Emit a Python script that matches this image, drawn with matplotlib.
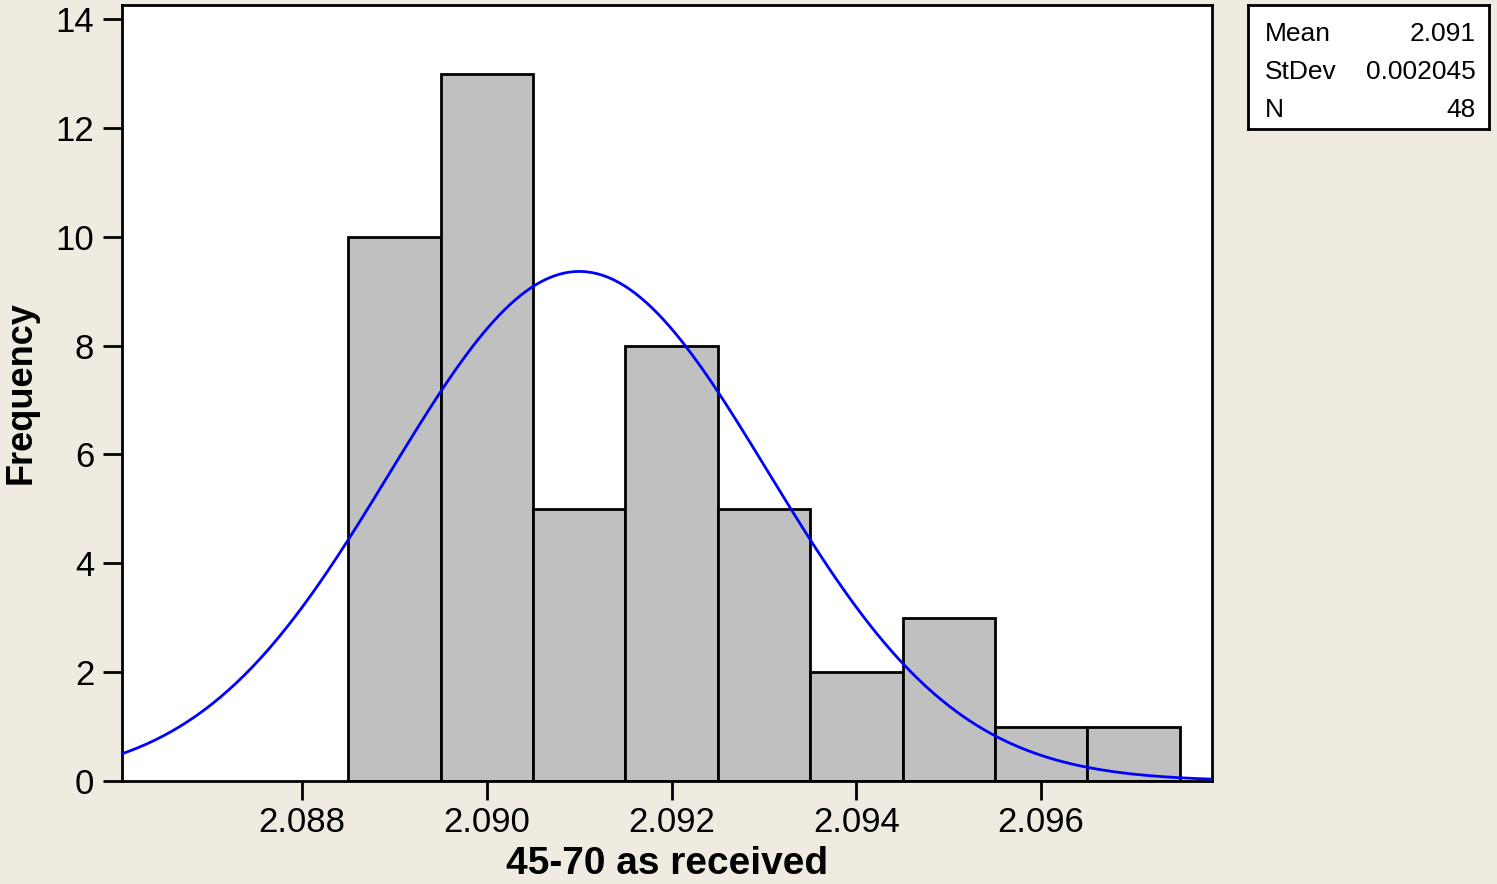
import numpy as np
import matplotlib
matplotlib.use('Agg')
from matplotlib import pyplot as plt

# Histogram data
bin_edges = [2.0885, 2.0895, 2.0905, 2.0915, 2.0925, 2.0935, 2.0945, 2.0955, 2.0965, 2.0975]
counts = [10, 13, 5, 8, 5, 2, 3, 1, 1]

# Fitted normal stats (from the legend box)
mean_val = 2.091
stdev_val = 0.002045
n_obs = 48

xticks = [2.088, 2.090, 2.092, 2.094, 2.096]
yticks = [0, 2, 4, 6, 8, 10, 12, 14]

bg = '#EFEBE1'
plt.rcParams['font.family'] = ['Liberation Sans', 'DejaVu Sans']

fig = plt.figure(figsize=(14.97, 8.84), dpi=100, facecolor=bg)
ax = fig.add_axes([122 / 1497, 1 - 781 / 884, (1212 - 122) / 1497, (781 - 5) / 884])
ax.set_facecolor('white')

widths = np.diff(bin_edges)
ax.bar(bin_edges[:-1], counts, width=widths, align='edge',
       color='#C0C0C0', edgecolor='black', linewidth=2, zorder=2)

# normal curve scaled to the histogram
binw = widths[0]
xs = np.linspace(2.08605, 2.09785, 400)
ys = n_obs * binw * np.exp(-0.5 * ((xs - mean_val) / stdev_val) ** 2) / (stdev_val * np.sqrt(2 * np.pi))
ax.plot(xs, ys, color='#0000FF', linewidth=2, zorder=3)

ax.set_xlim(2.08605, 2.09785)
ax.set_ylim(0, 14.26)
ax.set_xticks(xticks)
ax.set_xticklabels(['%.3f' % v for v in xticks])
ax.set_yticks(yticks)
ax.tick_params(axis='both', direction='out', length=14, width=2, labelsize=25,
               top=False, right=False)
ax.tick_params(axis='x', pad=4)
ax.tick_params(axis='y', pad=6)
for s in ax.spines.values():
    s.set_linewidth(2)

ax.set_xlabel('45-70 as received', fontsize=28, fontweight='bold', labelpad=5)
ax.set_ylabel('Frequency', fontsize=26, fontweight='bold', labelpad=12)

# stats box
box = fig.add_axes([1248 / 1497, 1 - 129 / 884, (1489 - 1248) / 1497, (129 - 5) / 884])
box.set_facecolor('white')
box.set_xticks([])
box.set_yticks([])
for s in box.spines.values():
    s.set_linewidth(2)
rows = [('Mean', '%.3f' % mean_val), ('StDev', '%.6f' % stdev_val), ('N', '%d' % n_obs)]
for i, (k, v) in enumerate(rows):
    yy = 1 - (i * 38 + 29) / 124
    box.text(17 / 241, yy, k, fontsize=19, va='center', ha='left', transform=box.transAxes)
    box.text(228 / 241, yy, v, fontsize=19, va='center', ha='right', transform=box.transAxes)

fig.savefig('out.png', dpi=100, facecolor=bg)
